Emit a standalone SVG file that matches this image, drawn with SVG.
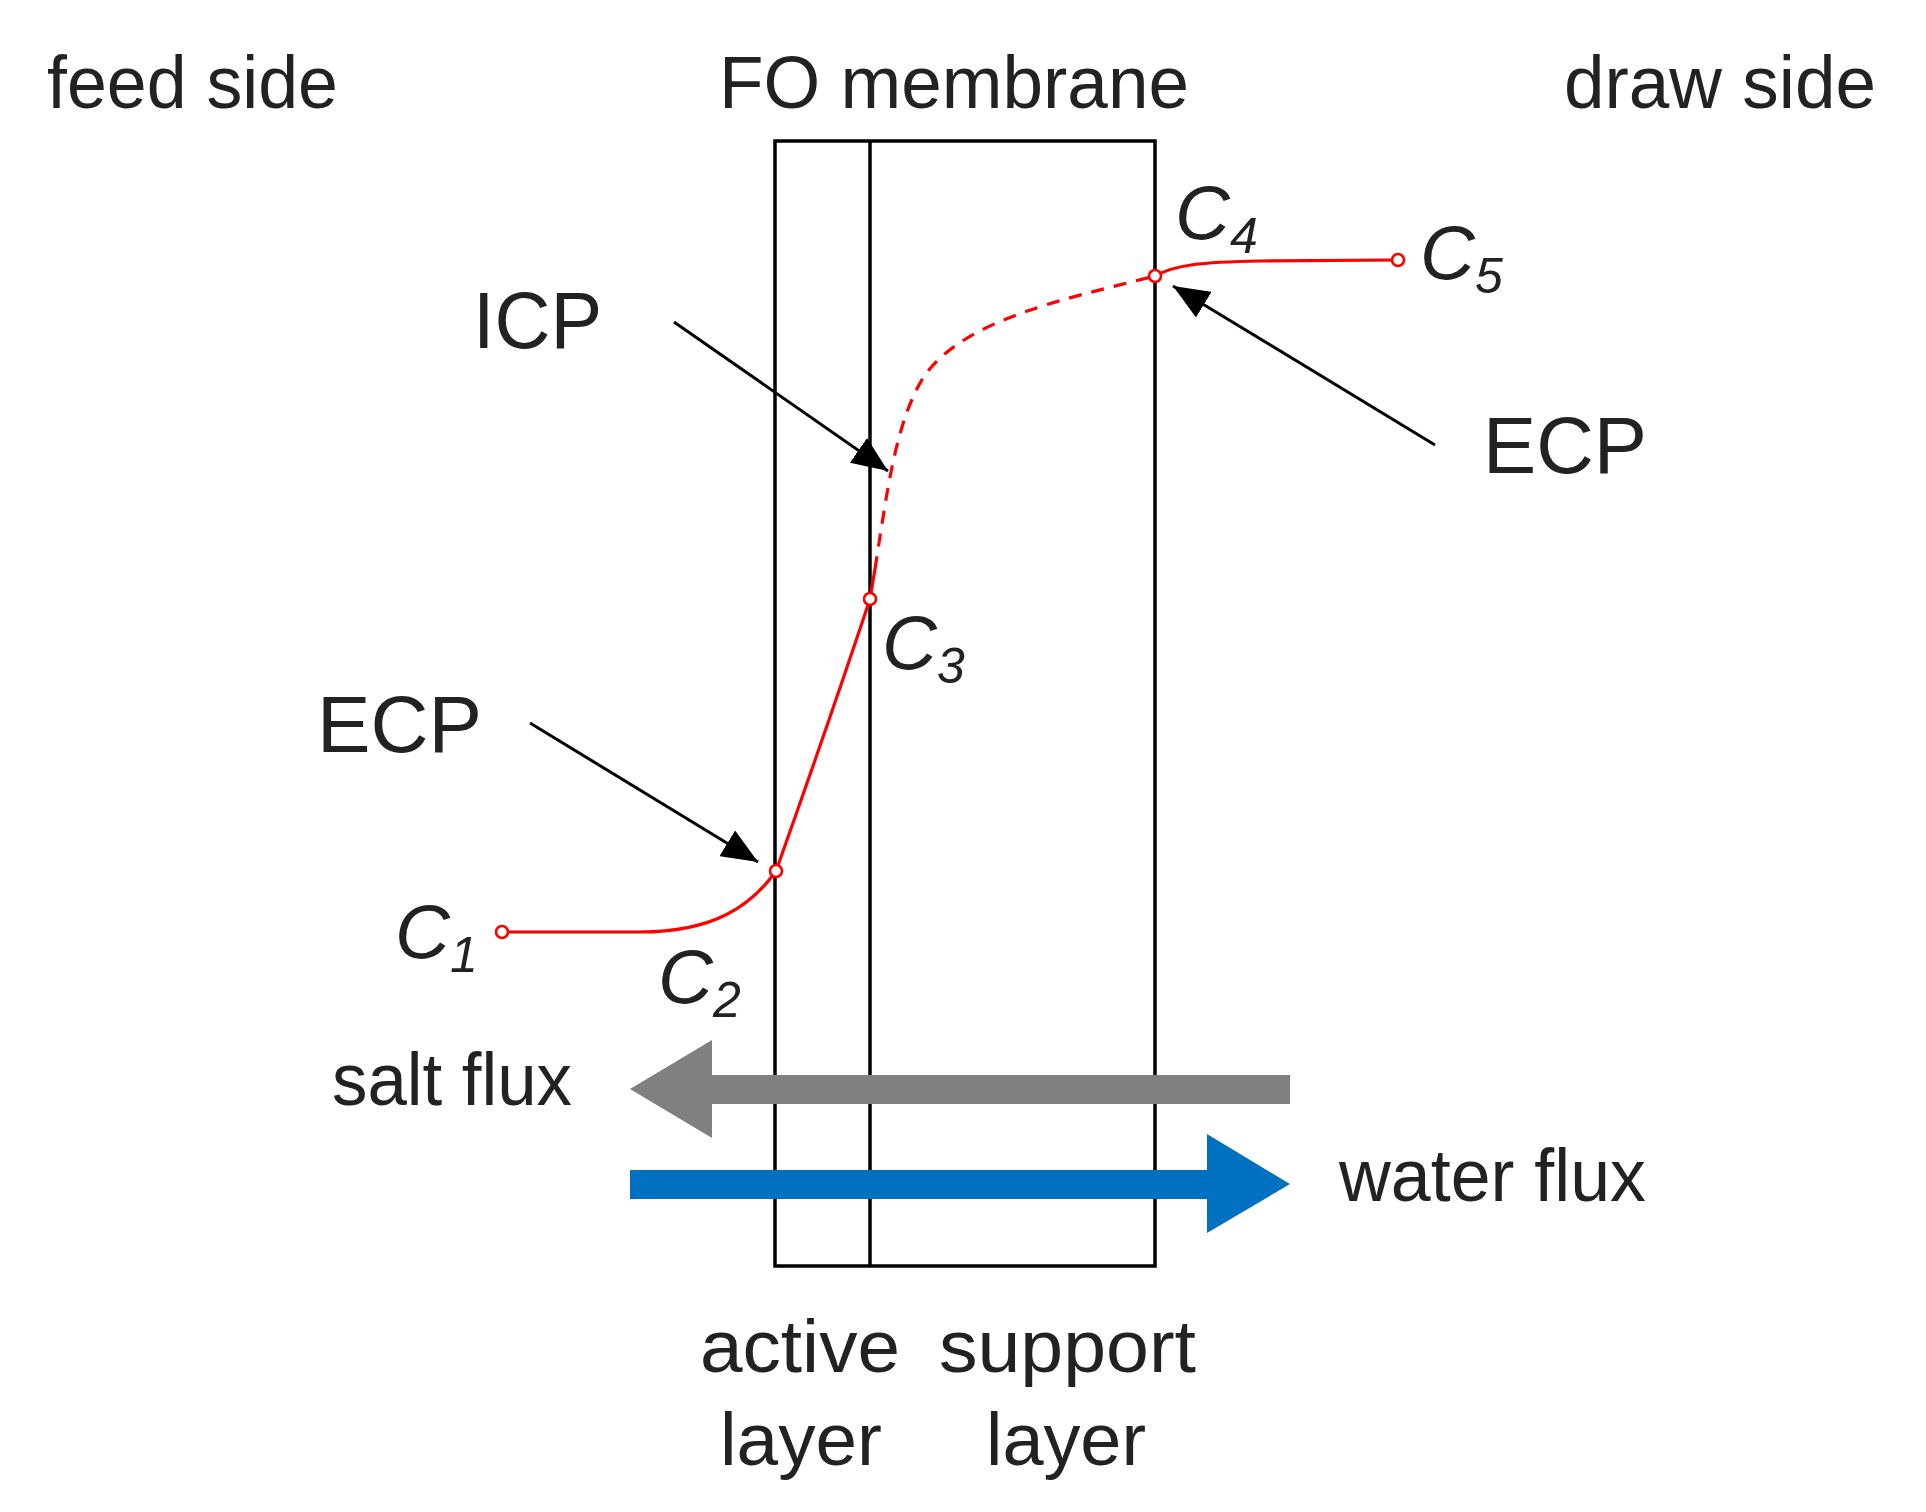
<svg xmlns="http://www.w3.org/2000/svg" width="1926" height="1512" viewBox="0 0 1926 1512">
<style>
text{font-family:"Liberation Sans",Arial,sans-serif;fill:#222}
.t{font-size:75px}
.b{font-size:80px}
.c{font-size:76px;font-style:italic}
.s{font-size:50px}
.mem{fill:none;stroke:#000;stroke-width:3.5}
.red{fill:none;stroke:#ff0000;stroke-width:3.2}
.dash{stroke-dasharray:13 10}
.pt{fill:#fff;stroke:#ff0000;stroke-width:2.6}
.ptr{stroke:#000;stroke-width:3;marker-end:url(#ah)}
</style>
<defs>
<marker id="ah" viewBox="0 0 36 30" refX="36" refY="15" markerWidth="36" markerHeight="30" markerUnits="userSpaceOnUse" orient="auto">
<path d="M0,0 L36,15 L0,30 z" fill="#000"/>
</marker>
</defs>
<rect width="1926" height="1512" fill="#fff"/>
<g id="headings">
<text class="t" x="47" y="108" textLength="291" lengthAdjust="spacingAndGlyphs">feed side</text>
<text class="t" x="719" y="108" textLength="470" lengthAdjust="spacingAndGlyphs">FO membrane</text>
<text class="t" x="1564" y="108" textLength="312" lengthAdjust="spacingAndGlyphs">draw side</text>
</g>
<g id="membrane">
<rect class="mem" x="775" y="141" width="380" height="1125"/>
<line class="mem" x1="870" y1="141" x2="870" y2="1266"/>
</g>
<g id="flux-arrows">
<polygon id="salt-flux-arrow" fill="#808080" points="1290,1075 712,1075 712,1040 630,1089 712,1138 712,1104 1290,1104"/>
<polygon id="water-flux-arrow" fill="#0070C0" points="630,1170 1207,1170 1207,1134 1290,1184 1207,1233 1207,1199 630,1199"/>
</g>
<g id="profile">
<path class="red" d="M502,932 L640,932 C715,932 752,905 776,871 Q828,725 870,599"/>
<path class="red" d="M870,599 L875,569"/>
<path class="red dash" d="M875,569 C886,500 895,420 925,375 C965,320 1060,300 1155,276"/>
<path class="red" d="M1155,276 C1175,265 1200,262 1260,261 L1397,260"/>
</g>
<g id="connectors">
<line class="ptr" x1="674" y1="322" x2="888" y2="471"/>
<line class="ptr" x1="530" y1="723" x2="758" y2="862"/>
<line class="ptr" x1="1435" y1="445" x2="1173" y2="286"/>
</g>
<g id="points">
<circle id="p1" class="pt" cx="502" cy="932" r="6"/>
<circle id="p2" class="pt" cx="776" cy="871" r="6"/>
<circle id="p3" class="pt" cx="870" cy="599" r="6"/>
<circle id="p4" class="pt" cx="1155" cy="276" r="6"/>
<circle id="p5" class="pt" cx="1398" cy="260" r="6"/>
</g>
<g id="labels">
<text class="b" x="473" y="348" textLength="129" lengthAdjust="spacingAndGlyphs">ICP</text>
<text class="b" x="1483" y="473" textLength="164" lengthAdjust="spacingAndGlyphs">ECP</text>
<text class="b" x="317" y="752" textLength="165" lengthAdjust="spacingAndGlyphs">ECP</text>
<text class="c" x="395" y="958">C<tspan class="s" dy="14">1</tspan></text>
<text class="c" x="658" y="1003">C<tspan class="s" dy="14">2</tspan></text>
<text class="c" x="882" y="669">C<tspan class="s" dy="14">3</tspan></text>
<text class="c" x="1175" y="239">C<tspan class="s" dy="14">4</tspan></text>
<text class="c" x="1420" y="279">C<tspan class="s" dy="14">5</tspan></text>
<text class="t" x="332" y="1105" textLength="240" lengthAdjust="spacingAndGlyphs">salt flux</text>
<text class="t" x="1339" y="1201" textLength="307" lengthAdjust="spacingAndGlyphs">water flux</text>
<text class="t" x="700" y="1372" textLength="200" lengthAdjust="spacingAndGlyphs">active</text>
<text class="t" x="720" y="1465" textLength="162" lengthAdjust="spacingAndGlyphs">layer</text>
<text class="t" x="939" y="1372" textLength="257" lengthAdjust="spacingAndGlyphs">support</text>
<text class="t" x="986" y="1465" textLength="160" lengthAdjust="spacingAndGlyphs">layer</text>
</g>
</svg>
